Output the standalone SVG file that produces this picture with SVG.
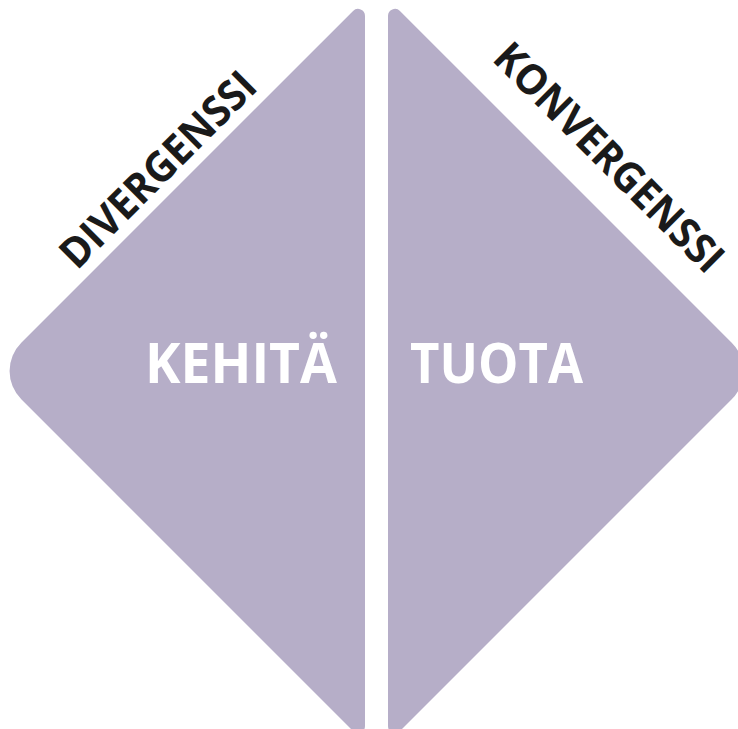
<svg xmlns="http://www.w3.org/2000/svg" width="738" height="729" viewBox="0 0 738 729">
  <style>
    .tri { fill: #B6AEC8; }
    .inner { font-family: "Open Sans", "Liberation Sans", sans-serif; font-weight: 700; font-size: 56px; fill: #FFFFFF; }
    .outer { font-family: "Open Sans", "Liberation Sans", sans-serif; font-weight: 700; font-size: 42px; fill: #1A1A1A; }
  </style>
  <rect x="0" y="0" width="738" height="729" fill="#FFFFFF"/>
  <g id="left-triangle">
    <path class="tri" d="M365,15.9 L365,726.1 A7,7 0 0 1 353.05,731.05 L21.28,399.28 A40,40 0 0 1 21.28,342.72 L353.05,10.95 A7,7 0 0 1 365,15.9 Z"/>
    <text class="inner" x="145" y="383" textLength="192" lengthAdjust="spacingAndGlyphs">KEHITÄ</text>
  </g>
  <g id="right-triangle">
    <path class="tri" d="M388,15.9 A7,7 0 0 1 399.95,10.95 L731.72,342.72 A40,40 0 0 1 731.72,399.28 L399.95,731.05 A7,7 0 0 1 388,726.1 Z"/>
    <text class="inner" x="410" y="383" textLength="173" lengthAdjust="spacingAndGlyphs">TUOTA</text>
  </g>
  <g id="label-divergenssi">
    <text class="outer" transform="translate(77,271) rotate(-45)" textLength="258" lengthAdjust="spacingAndGlyphs">DIVERGENSSI</text>
  </g>
  <g id="label-konvergenssi">
    <text class="outer" transform="translate(491,60) rotate(45)" textLength="305" lengthAdjust="spacingAndGlyphs">KONVERGENSSI</text>
  </g>
</svg>
